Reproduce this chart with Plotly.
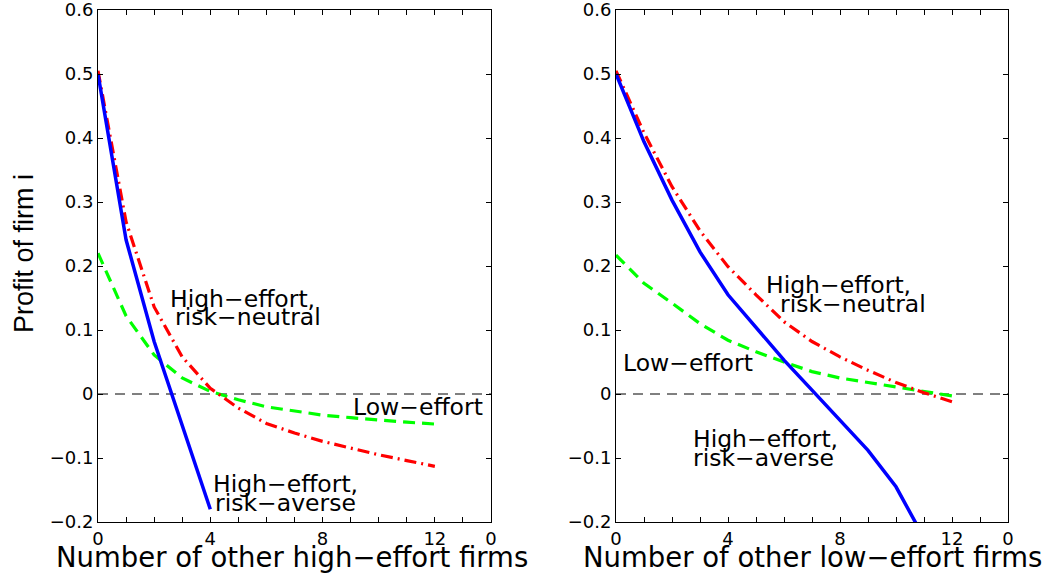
import plotly.graph_objects as go

# ---------------- data ----------------
n_left = list(range(0, 13))
left_averse_x = [0, 1, 2, 3, 4]
left_averse = [0.50, 0.241, 0.082, -0.050, -0.180]
left_neutral = [0.505, 0.269, 0.136, 0.058, 0.009, -0.022, -0.046, -0.061, -0.074,
                -0.085, -0.095, -0.104, -0.113]
left_low = [0.220, 0.122, 0.061, 0.025, 0.004, -0.009, -0.020, -0.027, -0.033,
            -0.037, -0.041, -0.044, -0.047]

n_right = list(range(0, 13))
right_averse_x = list(range(0, 12))
right_averse = [0.50, 0.394, 0.303, 0.222, 0.155, 0.105, 0.053, 0.006, -0.041,
                -0.088, -0.145, -0.225]
right_neutral = [0.505, 0.408, 0.324, 0.255, 0.199, 0.155, 0.113, 0.082, 0.058,
                 0.037, 0.018, 0.002, -0.012]
right_low = [0.217, 0.173, 0.142, 0.110, 0.084, 0.066, 0.050, 0.035, 0.025,
             0.018, 0.0105, 0.004, -0.003]

zero_x = [0, 14]
zero_y = [0, 0]

x_tickvals = list(range(0, 15))
x_ticktext = ["0", "", "", "", "4", "", "", "", "8", "", "", "", "12", "", "0"]
y_tickvals = [-0.2, -0.1, 0, 0.1, 0.2, 0.3, 0.4, 0.5, 0.6]
y_ticktext = ["\u22120.2", "\u22120.1", "0", "0.1", "0.2", "0.3", "0.4", "0.5", "0.6"]

# label texts and positions (data coordinates)
left_labels = [("High\u2212effort,", 2.53, 0.148), ("risk\u2212neutral", 2.71, 0.120),
               ("Low\u2212effort", 9.04, -0.020),
               ("High\u2212effort,", 4.05, -0.141), ("risk\u2212averse", 4.14, -0.170)]
right_labels = [("High\u2212effort,", 5.33, 0.170), ("risk\u2212neutral", 5.83, 0.141),
                ("Low\u2212effort", 0.21, 0.049),
                ("High\u2212effort,", 2.73, -0.071), ("risk\u2212averse", 2.73, -0.100)]

BLUE = "#0000FF"
RED = "#FF0000"
GREEN = "#00FF00"
FONT = "DejaVu Sans"

fig = go.Figure()

def add_panel(xa, ya, nx, low, neutral, avx, averse):
    fig.add_trace(go.Scatter(x=zero_x, y=zero_y, mode="lines", xaxis=xa, yaxis=ya,
                             line=dict(color="black", width=1, dash="10px,7px"),
                             showlegend=False, hoverinfo="skip"))
    fig.add_trace(go.Scatter(x=nx, y=low, mode="lines", xaxis=xa, yaxis=ya,
                             line=dict(color=GREEN, width=3.2, dash="12px,7px"),
                             showlegend=False))
    fig.add_trace(go.Scatter(x=nx, y=neutral, mode="lines", xaxis=xa, yaxis=ya,
                             line=dict(color=RED, width=3.2, dash="12px,5px,2px,5px"),
                             showlegend=False))
    fig.add_trace(go.Scatter(x=avx, y=averse, mode="lines", xaxis=xa, yaxis=ya,
                             line=dict(color=BLUE, width=3.5),
                             showlegend=False))

add_panel("x", "y", n_left, left_low, left_neutral, left_averse_x, left_averse)
add_panel("x2", "y2", n_right, right_low, right_neutral, right_averse_x, right_averse)

axis_common = dict(showline=True, linecolor="black", linewidth=1, mirror="ticks",
                   ticks="inside", ticklen=5, tickcolor="black", tickwidth=1,
                   showgrid=False, zeroline=False, automargin=False,
                   ticklabeloverflow="allow",
                   tickfont=dict(family=FONT, size=18, color="black"))

W, H = 1053, 574
xdom1 = [98 / W, 491 / W]
xdom2 = [616 / W, 1008 / W]
ydom = [1 - 522 / H, 1 - 10 / H]

fig.update_layout(
    template="none",
    width=W, height=H,
    margin=dict(l=0, r=0, t=0, b=0, pad=0),
    paper_bgcolor="white", plot_bgcolor="white",
    xaxis=dict(domain=xdom1, range=[0, 14], tickvals=x_tickvals, ticktext=x_ticktext,
               anchor="y", **axis_common),
    yaxis=dict(domain=ydom, range=[-0.2, 0.6], tickvals=y_tickvals, ticktext=y_ticktext,
               anchor="x", **axis_common),
    xaxis2=dict(domain=xdom2, range=[0, 14], tickvals=x_tickvals, ticktext=x_ticktext,
                anchor="y2", **axis_common),
    yaxis2=dict(domain=ydom, range=[-0.2, 0.6], tickvals=y_tickvals, ticktext=y_ticktext,
                anchor="x2", **axis_common),
)

annotations = []
for txt, x, y in left_labels:
    annotations.append(dict(text=txt, x=x, y=y, xref="x", yref="y", xanchor="left",
                            yanchor="middle", showarrow=False, borderpad=0,
                            font=dict(family=FONT, size=23.5, color="black")))
for txt, x, y in right_labels:
    annotations.append(dict(text=txt, x=x, y=y, xref="x2", yref="y2", xanchor="left",
                            yanchor="middle", showarrow=False, borderpad=0,
                            font=dict(family=FONT, size=23.5, color="black")))

annotations.append(dict(text="Number of other high\u2212effort firms", x=292 / W, y=1 - 557 / H,
                        xref="paper", yref="paper", xanchor="center", yanchor="middle",
                        showarrow=False, font=dict(family=FONT, size=27.5, color="black")))
annotations.append(dict(text="Number of other low\u2212effort firms", x=812 / W, y=1 - 557 / H,
                        xref="paper", yref="paper", xanchor="center", yanchor="middle",
                        showarrow=False, font=dict(family=FONT, size=27.5, color="black")))
annotations.append(dict(text="Profit of firm i", x=24 / W, y=1 - 254 / H,
                        xref="paper", yref="paper", xanchor="center", yanchor="middle",
                        textangle=-90, showarrow=False,
                        font=dict(family="Liberation Sans Narrow, Liberation Sans", size=27,
                                  color="black")))
fig.update_layout(annotations=annotations)

fig.write_html("out.html", config={"displayModeBar": False},
               post_script="document.body.style.margin='0';document.body.style.overflow='hidden';")
